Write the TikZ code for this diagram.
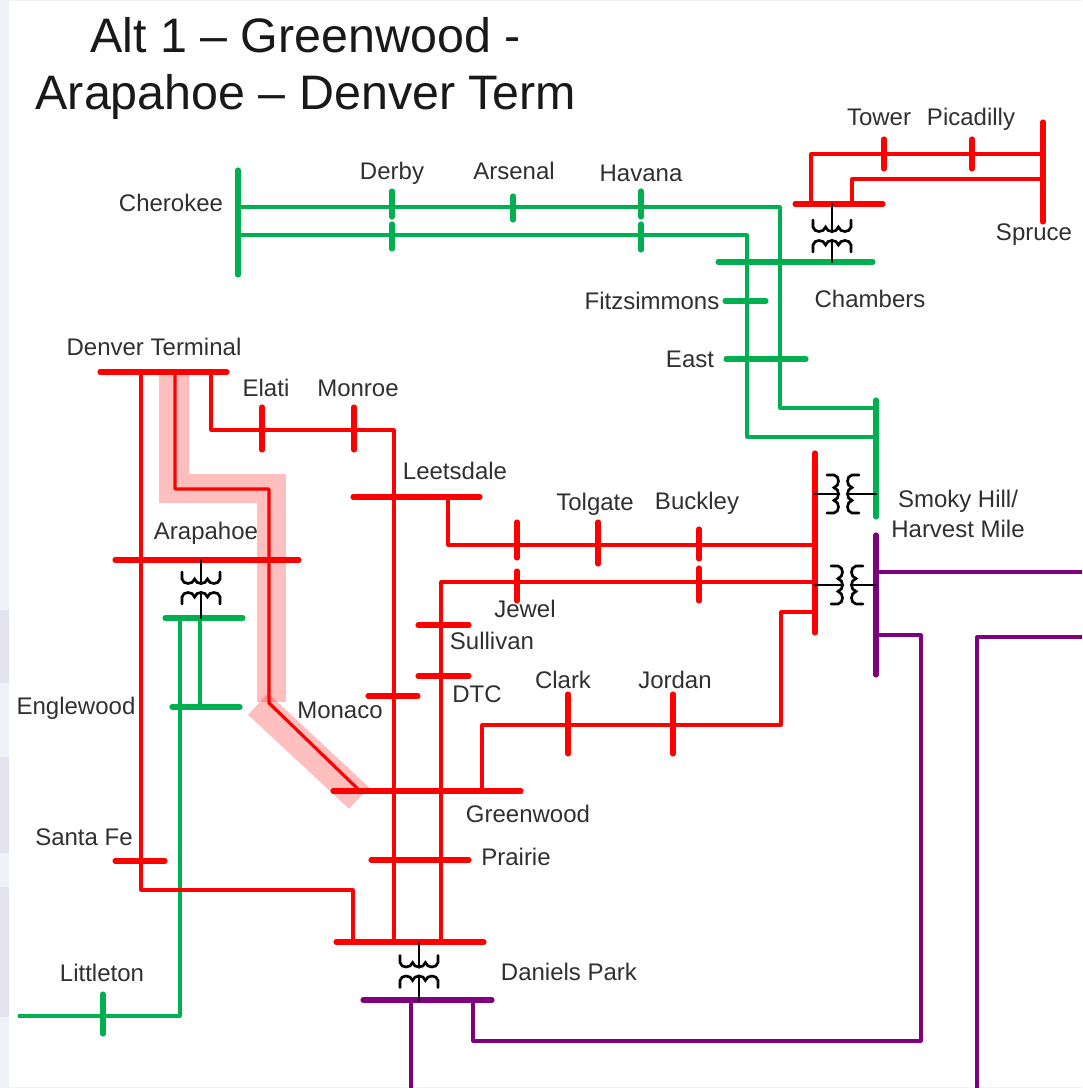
\documentclass[tikz,border=0pt]{standalone}
\usepackage{fontspec}
\setmainfont{Liberation Sans}
\usepackage{tikz}
\definecolor{gridgreen}{HTML}{00B050}
\definecolor{gridpurple}{HTML}{7F007F}
\definecolor{labelgrey}{HTML}{303030}
\definecolor{backdrop}{HTML}{F1F1F8}
\definecolor{backpatch}{HTML}{E3E3EE}
\tikzstyle{lab}=[text=labelgrey, inner sep=0pt, font=\fontsize{18}{20}\selectfont]
\tikzstyle{headline}=[text=black!90, inner sep=0pt, font=\fontsize{36.3}{40}\selectfont]
\tikzstyle{line}=[line width=2.4pt, line join=round]
\tikzstyle{bus}=[line width=3.8pt, line cap=round]
\tikzstyle{halo}=[red, draw opacity=.25, line width=22pt, line join=miter]
\tikzstyle{coil}=[black, line width=2pt, line cap=round]
\newcommand{\xformer}[5]{
    \begin{scope}[shift={(#1,#2)},rotate=#3]
        \draw [coil] (0,-#4) -- (0,-4);
        \draw [coil] (0,#5) -- (0,4);
        \draw [coil] (-19,-16) -- (-19,-9) .. controls (-18,-3) and (-8,-3) .. (-6.4,-9) .. controls (-5,-3) and (5,-3) .. (6.4,-9) .. controls (8,-3) and (18,-3) .. (19,-9) -- (19,-16);
        \draw [coil] (-19,16) -- (-19,9) .. controls (-18,3) and (-8,3) .. (-6.4,9) .. controls (-5,3) and (5,3) .. (6.4,9) .. controls (8,3) and (18,3) .. (19,9) -- (19,16);
    \end{scope}
}
\begin{document}
\begin{tikzpicture}
        [x=.75pt,y=-.75pt]
            \useasboundingbox (0,0) rectangle (1082,1088);
            \fill [backdrop] (0,0) rectangle (1082,1088);
            \fill [backpatch] (0,610) rectangle (9,683);
            \fill [backpatch] (0,757) rectangle (9,853);
            \fill [backpatch] (0,887) rectangle (9,1017);
            \fill [white] (9,1) rectangle (1082,1087);
            \foreach \name/\x/\y in {
                    chw/238/170, che/238/275, g1a/238/207, g1b/780/207, g1c/780/408, g1d/876/408,
                    g2a/238/235, g2b/747/235, g2c/747/437, g2d/876/437,
                    cha/718/262, chb/873/262, fia/725/301, fib/766/301, eaa/726/359, eab/806/359,
                    sga/876/400, sgb/876/517, ala/165/618, alb/243/618, ena/172/707, enb/240/707,
                    g3a/180/618, g3b/180/1016, g3c/18/1016, g4a/200/618, g4b/200/707,
                    spa/1043/122, spb/1043/222, cua/795/204, cub/883/204,
                    r1a/811/204, r1b/811/154, r1c/1043/154, r2a/852/204, r2b/852/179, r2c/1043/179,
                    dta/100/372, dtb/227/372, r3a/141/372, r3b/141/890, r3c/353/890, r3d/353/942,
                    sfa/115/861, sfb/165/861, ara/115/560, arb/299/560,
                    r4a/175/372, r4b/175/489, r4c/269/489, r4d/269/703, r4e/360/791,
                    h1a/174/372, h1b/174/488.5, h1c/271.5/488.5, h1d/271.5/702, h2a/258/704, h2b/359/798,
                    r5a/211/372, r5b/211/430, r5c/394/430, r5d/394/942,
                    lea/353/497, leb/480/497, r6a/448/497, r6b/448/545, r6c/815/545,
                    r7a/815/582, r7b/441/582, r7c/441/942,
                    sua/418/625, sub/469/625, dca/418/676, dcb/469/676, moa/368/696, mob/418/696,
                    gra/333/791, grb/521/791, r8a/482/791, r8b/482/725, r8c/781/725, r8d/781/612, r8e/815/612,
                    pra/371/860, prb/469/860, dpa/336/942, dpb/484/942, sra/815/453, srb/815/633,
                    dla/363/1000, dlb/492/1000, p1a/411/1000, p1b/411/1088, p4a/977/1088, p4b/977/637, p4c/1082/637,
                    p2a/473/1000, p2b/473/1041, p2c/921/1041, p2d/921/635, p2e/876/635,
                    spua/876/535, spub/876/675, p3a/876/572, p3b/1082/572}
                \coordinate (\name) at (\x,\y);
            \draw [halo] (h1a) -- (h1b) -- (h1c) -- (h1d);
            \draw [halo] (h2a) -- (h2b);
            \draw [gridgreen,line] (g1a) -- (g1b) -- (g1c) -- (g1d);
            \draw [gridgreen,line] (g2a) -- (g2b) -- (g2c) -- (g2d);
            \draw [gridgreen,line] (g3a) -- (g3b) -- (g3c);
            \draw [gridgreen,line] (g4a) -- (g4b);
            \draw [red,line] (r1a) -- (r1b) -- (r1c);
            \draw [red,line] (r2a) -- (r2b) -- (r2c);
            \draw [red,line] (r3a) -- (r3b) -- (r3c) -- (r3d);
            \draw [red,line] (r4a) -- (r4b) -- (r4c) -- (r4d) -- (r4e);
            \draw [red,line] (r5a) -- (r5b) -- (r5c) -- (r5d);
            \draw [red,line] (r6a) -- (r6b) -- (r6c);
            \draw [red,line] (r7a) -- (r7b) -- (r7c);
            \draw [red,line] (r8a) -- (r8b) -- (r8c) -- (r8d) -- (r8e);
            \draw [gridpurple,line] (p1a) -- (p1b);
            \draw [gridpurple,line] (p4a) -- (p4b) -- (p4c);
            \draw [gridpurple,line] (p2a) -- (p2b) -- (p2c) -- (p2d) -- (p2e);
            \draw [gridpurple,line] (p3a) -- (p3b);
            \foreach \a/\b in {chw/che, cha/chb, fia/fib, eaa/eab, sga/sgb, ala/alb, ena/enb}
                \draw [gridgreen,bus] (\a) -- (\b);
            \foreach \a/\b in {spa/spb, cua/cub, dta/dtb, sfa/sfb, ara/arb, lea/leb, sua/sub, dca/dcb, moa/mob, gra/grb, pra/prb, dpa/dpb, sra/srb}
                \draw [red,bus] (\a) -- (\b);
            \foreach \a/\b in {dla/dlb, spua/spub}
                \draw [gridpurple,bus] (\a) -- (\b);
            \foreach \name/\x/\ya/\yb in {derbya/392/191/217, derbyb/392/224/249, arsenal/513/196/220, havanaa/641/191/217, havanab/641/224/250, littleton/103/994/1034}
                \draw [gridgreen,bus] (\x,\ya) coordinate (\name top) -- (\x,\yb) coordinate (\name bot);
            \foreach \name/\x/\ya/\yb in {tower/884/139/169, picadilly/972/139/169, elati/262/407/450, monroe/354/407/450, jewela/517/522/558, tolgate/598/522/564, buckley/699/529/559, jewelb/517/571/601, buckleyb/699/568/601, clark/568/694/754, jordan/673/694/754}
                \draw [red,bus] (\x,\ya) coordinate (\name top) -- (\x,\yb) coordinate (\name bot);
            \xformer{832}{236}{0}{32}{26}
            \xformer{201}{588}{0}{28}{30}
            \xformer{419}{971.5}{0}{28.5}{29}
            \xformer{843}{494}{90}{28}{33}
            \xformer{847}{585}{90}{32}{29}
            \node [headline] (titletop) at (305.5,35) {Alt 1 – Greenwood -};
            \node [headline] (titlebottom) at (306,97) {Arapahoe – Denver Term};
            \foreach \name/\x/\y/\txt in {
                    cherokee/171/203/Cherokee, derby/392/173/Derby, arsenal/514/171/Arsenal, havana/641/173/Havana,
                    tower/879/117/Tower, picadilly/971/119/Picadilly, spruce/1034/235/Spruce, chambers/870/299/Chambers,
                    fitzsimmons/652/301/Fitzsimmons, east/690/359/East, denver/154/347/Denver Terminal,
                    elati/266/388/Elati, monroe/358/388/Monroe, leetsdale/455/471/Leetsdale, tolgate/595/504/Tolgate,
                    buckley/697/503/Buckley, smoky/958/501/{Smoky Hill/}, harvest/958/529/Harvest Mile, arapahoe/206/533/Arapahoe,
                    jewel/525/609/Jewel, sullivan/492/641/Sullivan, dtc/477/694/DTC, clark/563/680/Clark, jordan/675/680/Jordan,
                    monaco/340/710/Monaco, englewood/76/708/Englewood, greenwood/528/814/Greenwood, prairie/516/857/Prairie,
                    santafe/84/837/Santa Fe, daniels/569/972/Daniels Park, littleton/102/973/Littleton}
                \node [lab] (\name label) at (\x,\y) {\txt};
        \end{tikzpicture}
\end{document}
